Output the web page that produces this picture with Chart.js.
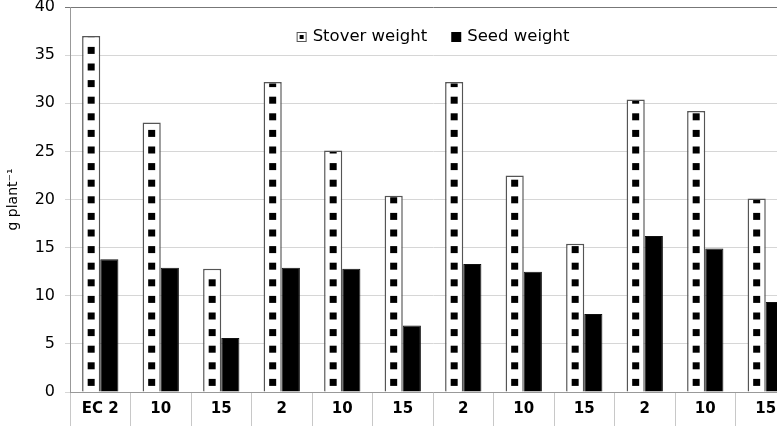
<!DOCTYPE html>
<html>
<head>
<meta charset="utf-8">
<script src="https://cdn.jsdelivr.net/npm/chart.js@4.4.1/dist/chart.umd.min.js"></script>
<style>
  html, body { margin: 0; padding: 0; background: #fff; overflow: hidden; }
  #wrap { width: 800px; height: 426px; }
</style>
</head>
<body>
<div id="wrap"><canvas id="chart" width="800" height="426"></canvas></div>
<script>
// ─── Data ────────────────────────────────────────────────────
const categories = ['EC 2', '10', '15', '2', '10', '15', '2', '10', '15', '2', '10', '15'];
const stoverWeight = [37.0, 28.0, 12.8, 32.2, 25.1, 20.4, 32.2, 22.5, 15.4, 30.4, 29.2, 20.1];
const seedWeight   = [13.8, 12.9, 5.6, 12.9, 12.8, 6.9, 13.3, 12.5, 8.1, 16.2, 14.9, 9.35];
const seriesNames  = ['Stover weight', 'Seed weight'];
const yMin = 0, yMax = 40, yStep = 5;

const FONT = 'DejaVu Sans';

// dotted fill for the stover bars (squares stacked from the base up)
const stoverSquares = {
  id: 'stoverSquares',
  afterDatasetDraw(chart, args) {
    if (args.index !== 0) return;
    const ctx = chart.ctx;
    args.meta.data.forEach(bar => {
      const { x, y, base, width } = bar.getProps(['x', 'y', 'base', 'width'], true);
      ctx.save();
      ctx.beginPath();
      ctx.rect(x - width / 2 + 1.5, y + 1.5, width - 3, base - y - 1.5);
      ctx.clip();
      ctx.fillStyle = '#000';
      for (let b = base - 5.6; b > y; b -= 16.6) {
        ctx.fillRect(x - 3.5, b - 7, 7, 7);
      }
      ctx.restore();
    });
  }
};

// legend drawn inside the plot, near the top
const innerLegend = {
  id: 'innerLegend',
  afterDraw(chart) {
    const ctx = chart.ctx;
    const area = chart.chartArea;
    ctx.save();
    ctx.font = `16.5px "${FONT}"`;
    ctx.textBaseline = 'middle';
    const box = 10, gap = 6, itemGap = 24;
    const w = seriesNames.map(t => ctx.measureText(t).width);
    const total = box + gap + w[0] + itemGap + box + gap + w[1];
    let x = (area.left + area.right) / 2 - total / 2;
    const cy = 37;

    // stover marker
    ctx.fillStyle = '#fff';
    ctx.fillRect(x, cy - box / 2, box, box);
    ctx.strokeStyle = '#555';
    ctx.lineWidth = 1;
    ctx.strokeRect(x + 0.5, cy - box / 2 + 0.5, box - 1, box - 1);
    ctx.fillStyle = '#000';
    ctx.fillRect(x + 3, cy - 2, 4, 4);
    x += box + gap;
    ctx.fillStyle = '#000';
    ctx.fillText(seriesNames[0], x, cy);
    x += w[0] + itemGap;

    // seed marker
    ctx.fillRect(x, cy - box / 2, box, box);
    x += box + gap;
    ctx.fillText(seriesNames[1], x, cy);
    ctx.restore();
  }
};

new Chart(document.getElementById('chart'), {
  type: 'bar',
  data: {
    labels: categories,
    datasets: [
      {
        label: seriesNames[0],
        data: stoverWeight,
        backgroundColor: '#fff',
        borderColor: '#555',
        borderWidth: 1.5,
        categoryPercentage: 0.6,
        barPercentage: 1.0,
      },
      {
        label: seriesNames[1],
        data: seedWeight,
        backgroundColor: '#000',
        borderColor: '#111',
        borderWidth: 1,
        categoryPercentage: 0.6,
        barPercentage: 1.0,
      }
    ]
  },
  options: {
    responsive: false,
    animation: false,
    devicePixelRatio: 1,
    layout: { padding: { top: 7, right: 4, left: 0, bottom: 0 } },
    plugins: {
      legend: { display: false },
      tooltip: { enabled: false },
    },
    scales: {
      x: {
        grid: {
          offset: true,
          drawOnChartArea: false,
          tickLength: 34,
          color: '#c8c8c8',
        },
        border: { color: '#999' },
        ticks: {
          color: '#000',
          padding: -26,
          font: { family: FONT, size: 15, weight: 'bold' },
          maxRotation: 0,
        },
        afterFit(scale) {
          scale.height = 34;
          scale.paddingLeft = 0;
          scale.paddingRight = 0;
        },
      },
      y: {
        min: yMin,
        max: yMax,
        ticks: {
          stepSize: yStep,
          color: '#000',
          padding: 10,
          font: { family: FONT, size: 16 },
        },
        grid: {
          color: ctx => (ctx.tick && ctx.tick.value === yMax) ? '#777' : '#d6d6d6',
          tickLength: 5,
        },
        border: { color: '#999' },
        title: {
          display: true,
          text: 'g plant⁻¹',
          color: '#000',
          font: { family: FONT, size: 14 },
          padding: { top: 5, bottom: 0 },
        },
        afterFit(scale) {
          scale.width = 70;
          scale.paddingTop = 0;
          scale.paddingBottom = 0;
        },
      }
    }
  },
  plugins: [stoverSquares, innerLegend]
});
</script>
</body>
</html>
